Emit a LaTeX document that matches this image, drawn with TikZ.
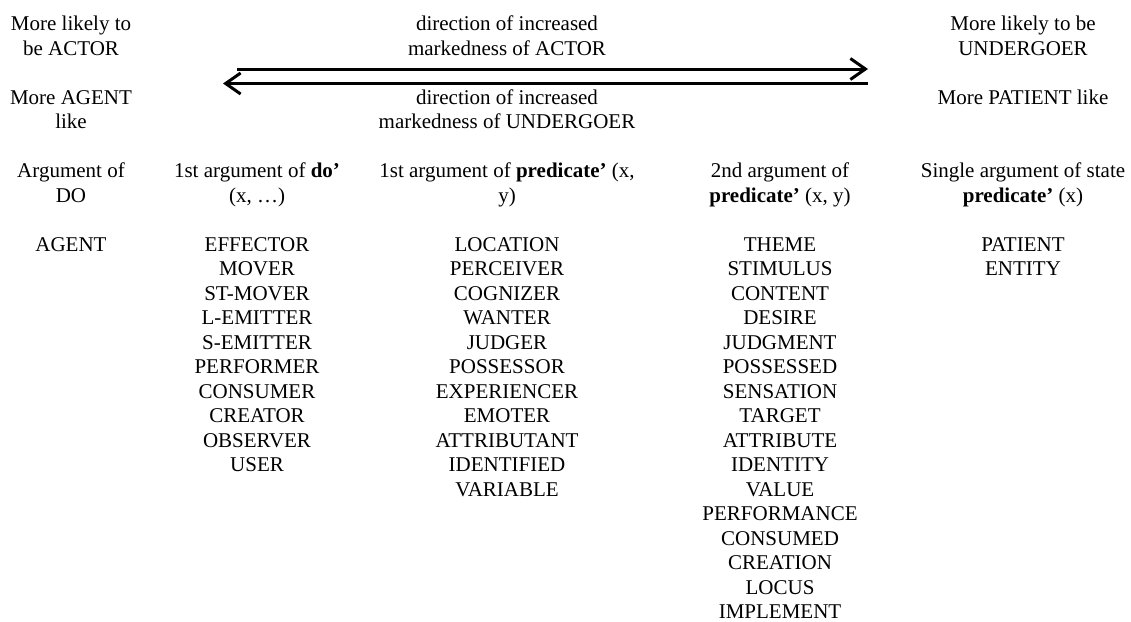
\documentclass[tikz,border=0pt]{standalone}
\usepackage{fontspec}
\setmainfont{Liberation Serif}
\usetikzlibrary{arrows.meta}
\begin{document}
\begin{tikzpicture}[x=1pt, y=-1pt,
  lbl/.style={anchor=base, inner sep=0pt, font=\fontsize{21pt}{24.5pt}\selectfont},
  dirarrow/.style={line width=3pt, -{Straight Barb[length=15pt, width=21pt, line width=3pt]}}]
  \useasboundingbox (0,0) rectangle (1131,621);
  % baseline of text row k
  \def\ry#1{30.5+24.5*#1}
  % column centres
  \def\xa{71}\def\xb{257}\def\xc{507}\def\xd{780}\def\xe{1023}

  % left column
  \node[lbl] (l0) at (\xa,{\ry{0}}) {More likely to};
  \node[lbl] (l1) at (\xa,{\ry{1}}) {be ACTOR};
  \node[lbl] (l3) at (\xa,{\ry{3}}) {More AGENT};
  \node[lbl] (l4) at (\xa,{\ry{4}}) {like};
  \node[lbl] (l6) at (\xa,{\ry{6}}) {Argument of};
  \node[lbl] (l7) at (\xa,{\ry{7}}) {DO};
  \node[lbl] (l9) at (\xa,{\ry{9}}) {AGENT};

  % right column
  \node[lbl] (r0) at (\xe,{\ry{0}}) {More likely to be};
  \node[lbl] (r1) at (\xe,{\ry{1}}) {UNDERGOER};
  \node[lbl] (r3) at (\xe,{\ry{3}}) {More PATIENT like};
  \node[lbl] (r6) at (\xe,{\ry{6}}) {Single argument of state};
  \node[lbl] (r7) at (\xe,{\ry{7}}) {\textbf{predicate’} (x)};
  \node[lbl] (r9) at (\xe,{\ry{9}}) {PATIENT};
  \node[lbl] (r10) at (\xe,{\ry{10}}) {ENTITY};

  % labels of the two arrows
  \node[lbl] (m0) at (\xc,{\ry{0}}) {direction of increased};
  \node[lbl] (m1) at (\xc,{\ry{1}}) {markedness of ACTOR};
  \node[lbl] (m3) at (\xc,{\ry{3}}) {direction of increased};
  \node[lbl] (m4) at (\xc,{\ry{4}}) {markedness of UNDERGOER};

  % the two markedness arrows
  \coordinate (actL) at (237,69);
  \coordinate (actR) at (868,69);
  \coordinate (undR) at (868,83.5);
  \coordinate (undL) at (223,83.5);
  \draw[dirarrow] (actL) -- (actR);
  \draw[dirarrow] (undR) -- (undL);

  % column headings
  \node[lbl] (b6) at (\xb,{\ry{6}}) {1st argument of \textbf{do’}};
  \node[lbl] (b7) at (\xb,{\ry{7}}) {(x, …)};
  \node[lbl] (c6) at (\xc,{\ry{6}}) {1st argument of \textbf{predicate’} (x,};
  \node[lbl] (c7) at (\xc,{\ry{7}}) {y)};
  \node[lbl] (d6) at (\xd,{\ry{6}}) {2nd argument of};
  \node[lbl] (d7) at (\xd,{\ry{7}}) {\textbf{predicate’} (x, y)};

  % role lists
  \foreach \t [count=\i from 9] in {EFFECTOR, MOVER, ST-MOVER, L-EMITTER, S-EMITTER,
      PERFORMER, CONSUMER, CREATOR, OBSERVER, USER}
    \node[lbl] (b\i) at (\xb,{\ry{\i}}) {\t};
  \foreach \t [count=\i from 9] in {LOCATION, PERCEIVER, COGNIZER, WANTER, JUDGER,
      POSSESSOR, EXPERIENCER, EMOTER, ATTRIBUTANT, IDENTIFIED, VARIABLE}
    \node[lbl] (c\i) at (\xc,{\ry{\i}}) {\t};
  \foreach \t [count=\i from 9] in {THEME, STIMULUS, CONTENT, DESIRE, JUDGMENT,
      POSSESSED, SENSATION, TARGET, ATTRIBUTE, IDENTITY, VALUE, PERFORMANCE,
      CONSUMED, CREATION, LOCUS, IMPLEMENT}
    \node[lbl] (d\i) at (\xd,{\ry{\i}}) {\t};
\end{tikzpicture}
\end{document}
